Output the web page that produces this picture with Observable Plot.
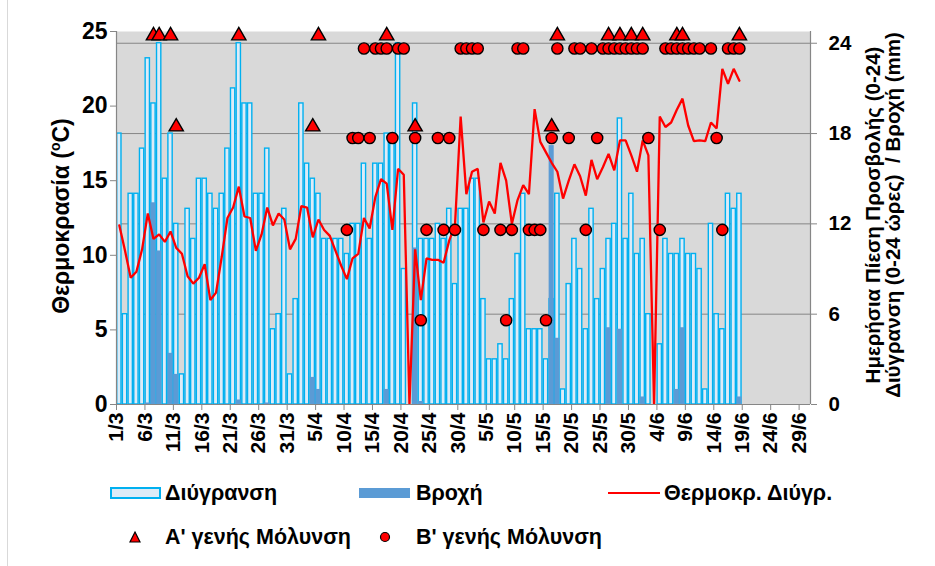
<!DOCTYPE html>
<html>
<head>
<meta charset="utf-8">
<script src="https://cdn.jsdelivr.net/npm/d3@7"></script>
<script src="https://cdn.jsdelivr.net/npm/@observablehq/plot@0.6"></script>
<style>
  body { margin: 0; background: #fff; }
  #wrap { position: relative; width: 935px; height: 566px; overflow: hidden; font-family: "Liberation Sans", Arial, sans-serif; font-weight: 700; color: #000; }
  #chart { position: absolute; left: 0; top: 0; }
  .border { position: absolute; left: 7px; top: 0; width: 0; height: 566px; border-left: 1.5px solid #d9d9d9; }
  .vt { position: absolute; transform: translate(-50%, -50%) rotate(-90deg); white-space: pre; font-weight: 700; text-align: center; }
  .lg { position: absolute; font-size: 21.5px; font-weight: 700; line-height: 24px; white-space: pre; }
  .sw { position: absolute; box-sizing: border-box; }
</style>
</head>
<body>
<div id="wrap">
  <div class="border"></div>
  <div id="chart"></div>
  <div class="vt" style="left:58px; top:216px; font-size:23px; line-height:24px;">Θερμοκρασία (<sup style="font-size:14px">o</sup>C)</div>
  <div class="vt" style="left:882px; top:215px; font-size:20.5px; line-height:19.5px;">Ημερήσια Πίεση Προσβολής (0-24)
Διύγρανση (0-24 ώρες)  / Βροχή (mm)</div>
  <div id="legend"></div>
</div>
<script>
// ---- Data (day index 0 = 1/3) ----
const wetness = [18,6,14,14,17,23,20,24,15,18,12,2,13,11,15,15,14,13,14,17,21,24,20,20,14,14,17,5,6,13,
  2,7,20,16,15,14,11,11,11,11,10,12,12,16,11,16,16,18,18,24,9,0,20,11,11,11,12,11,13,8,
  13,13,15,15,7,3,3,4,3,7,10,14,5,5,5,3,7,14,1,8,11,9,5,13,7,9,11,12,19,11,
  14,10,11,6,0,4,11,10,10,11,10,10,9,1,12,6,5,14,13,14];
const rainDays = [5,6,7,9,10,21,26,34,35,47,52,53,76,77,86,88,92,98,99,109];
const rainMm   = [0.1,13.4,10.2,3.4,2.0,0.3,0.1,1.8,1.0,1.0,10.4,0.2,17.2,4.4,5.1,5.0,0.5,1.0,5.1,0.5];
const temperature = [12.0,10.3,8.5,8.9,10.4,12.8,11.1,11.4,10.9,11.6,10.5,10.1,8.6,8.1,8.5,9.4,7.0,7.5,9.9,12.5,
  13.2,14.6,12.6,12.5,10.3,11.4,13.2,12.0,12.8,12.4,10.4,11.1,13.3,13.2,11.2,12.4,11.7,11.3,10.3,9.3,
  8.4,9.8,10.1,12.5,11.8,13.9,15.1,14.8,11.7,15.8,15.4,0,10.4,7.0,9.8,9.7,9.7,9.5,11.0,12.0,
  19.3,14.1,15.6,15.8,12.2,13.6,12.8,16.2,15.0,12.1,13.7,14.7,14.1,19.8,17.6,16.9,16.2,15.6,13.8,15.0,
  16.1,15.3,14.0,16.4,15.1,15.9,16.8,15.7,17.7,17.7,16.7,15.6,17.7,16.7,0,19.3,18.6,18.9,19.75,20.5,
  18.7,17.65,17.7,17.65,18.9,18.5,22.5,21.5,22.5,21.7];
// Infection markers (day index) and their level on the right axis
const aTopDays = [6,7,9,21,35,47,77,86,88,90,92,98,99,109];
const aMidDays = [10,34,52,76];
const aLevels  = [24.5, 18.45];
const bRow1Days = [43,45,46,47,49,50,60,61,62,63,70,71,77,80,81,83,85,86,87,88,89,90,91,92,96,97,98,99,100,101,102,104,107,108,109];
const bRow2Days = [41,42,44,48,52,56,58,76,79,84,93,105];
const bRow3Days = [40,54,57,59,64,67,69,72,73,74,82,95,106];
const bRow4Days = [53,68,75];
const bLevels   = [23.65, 17.7, 11.6, 5.6];
// Axes
const xTickDays   = [0,5,10,15,20,25,30,35,40,45,50,55,60,65,70,75,80,85,90,95,100,105,110,115,120];
const xTickLabels = ["1/3","6/3","11/3","16/3","21/3","26/3","31/3","5/4","10/4","15/4","20/4","25/4","30/4","5/5","10/5","15/5","20/5","25/5","30/5","4/6","9/6","14/6","19/6","24/6","29/6"];
const leftTicks  = [0,5,10,15,20,25];
const rightTicks = [0,6,12,18,24];
const RIGHT_MAX = 24.78;   // right axis top
const LEFT_MAX = 25;
const K = RIGHT_MAX / LEFT_MAX;

// ---- Build tables ----
const wetData = wetness.map((v, i) => ({d: i, v})).filter(o => o.v > 0);
const rainData = rainDays.map((d, i) => ({d, v: rainMm[i]}));
const tempData = temperature.map((t, i) => ({d: i, t}));
const tri = [
  ...aTopDays.map(d => ({d, lv: aLevels[0]})),
  ...aMidDays.map(d => ({d, lv: aLevels[1]}))
];
const circ = [
  ...bRow1Days.map(d => ({d, lv: bLevels[0]})),
  ...bRow2Days.map(d => ({d, lv: bLevels[1]})),
  ...bRow3Days.map(d => ({d, lv: bLevels[2]})),
  ...bRow4Days.map(d => ({d, lv: bLevels[3]}))
].sort((a, b) => a.lv - b.lv || a.d - b.d);

const axisGray = "#868686";
const chart = Plot.plot({
  width: 935,
  height: 460,
  marginLeft: 116,
  marginRight: 125,
  marginTop: 31,
  marginBottom: 56,
  style: {fontFamily: "'Liberation Sans', Arial, sans-serif", fontWeight: "bold", fontSize: "20px", color: "#000", background: "transparent", overflow: "visible"},
  x: {domain: [0, 122], axis: null},
  y: {domain: [0, RIGHT_MAX], axis: null},
  marks: [
    Plot.frame({fill: "#d9d9d9", stroke: null}),
    Plot.ruleY(rightTicks.filter(v => v > 0), {stroke: axisGray, strokeWidth: 1}),
    Plot.rect(wetData, {x1: "d", x2: d => d.d + 1, y1: 0, y2: "v", fill: "#ddebf7", stroke: "#00b0f0", strokeWidth: 1.4, insetLeft: 0.7, insetRight: 0.7}),
    Plot.rect(rainData, {x1: "d", x2: d => d.d + 1, y1: 0, y2: "v", fill: "#5b9bd5", insetLeft: 0.3, insetRight: 0.3}),
    Plot.line(tempData, {x: d => d.d + 0.5, y: d => d.t * K, stroke: "#ff0000", strokeWidth: 2.3, strokeLinejoin: "miter"}),
    Plot.dot(tri, {x: d => d.d + 0.5, y: "lv", symbol: "triangle", r: 5.3, fill: "#ff0000", stroke: "#000", strokeWidth: 1.4}),
    Plot.dot(circ, {x: d => d.d + 0.5, y: "lv", r: 5.6, fill: "#ff0000", stroke: "#000", strokeWidth: 1.4}),
    Plot.ruleX([0], {stroke: axisGray, strokeWidth: 1.2}),
    Plot.ruleX([122], {stroke: axisGray, strokeWidth: 1.2}),
    Plot.ruleY([0], {stroke: axisGray, strokeWidth: 1.2}),
    Plot.axisY(leftTicks.map(v => v * K), {anchor: "left", label: null, tickSize: 6, tickPadding: 3, stroke: axisGray, fill: "#000", fontSize: 23, fontWeight: "bold", tickFormat: v => String(Math.round(v / K))}),
    Plot.axisY(rightTicks, {anchor: "right", label: null, tickSize: 6, tickPadding: 12, stroke: axisGray, fill: "#000", fontSize: 20.5, fontWeight: "bold", tickFormat: d => String(d)}),
    Plot.axisX(xTickDays, {anchor: "bottom", label: null, tickSize: 6, tickPadding: 2, tickRotate: -90, stroke: axisGray, fill: "#000", fontSize: 21, fontWeight: "bold", tickFormat: d => xTickLabels[xTickDays.indexOf(d)]})
  ]
});
document.getElementById("chart").appendChild(chart);

// ---- Legend ----
const lg = document.getElementById("legend");
lg.innerHTML = `
  <div class="sw" style="left:110px; top:487px; width:51px; height:12px; background:#ddebf7; border:2px solid #00b0f0;"></div>
  <div class="lg" style="left:165px; top:481px;">Διύγρανση</div>
  <div class="sw" style="left:359px; top:488px; width:51px; height:10px; background:#5b9bd5;"></div>
  <div class="lg" style="left:416px; top:481px;">Βροχή</div>
  <div class="sw" style="left:608px; top:492px; width:52px; height:2px; background:#ff0000;"></div>
  <div class="lg" style="left:664px; top:481px;">Θερμοκρ. Διύγρ.</div>
  <svg style="position:absolute; left:128px; top:530px;" width="14" height="14"><path d="M7,2 L12,12 L2,12 Z" fill="#ff0000" stroke="#000" stroke-width="1.2"/></svg>
  <div class="lg" style="left:165px; top:525px;">Α' γενής Μόλυνση</div>
  <svg style="position:absolute; left:378px; top:530px;" width="14" height="14"><circle cx="7" cy="7" r="4.5" fill="#ff0000" stroke="#000" stroke-width="1.2"/></svg>
  <div class="lg" style="left:416px; top:525px;">Β' γενής Μόλυνση</div>
`;
</script>
</body>
</html>
